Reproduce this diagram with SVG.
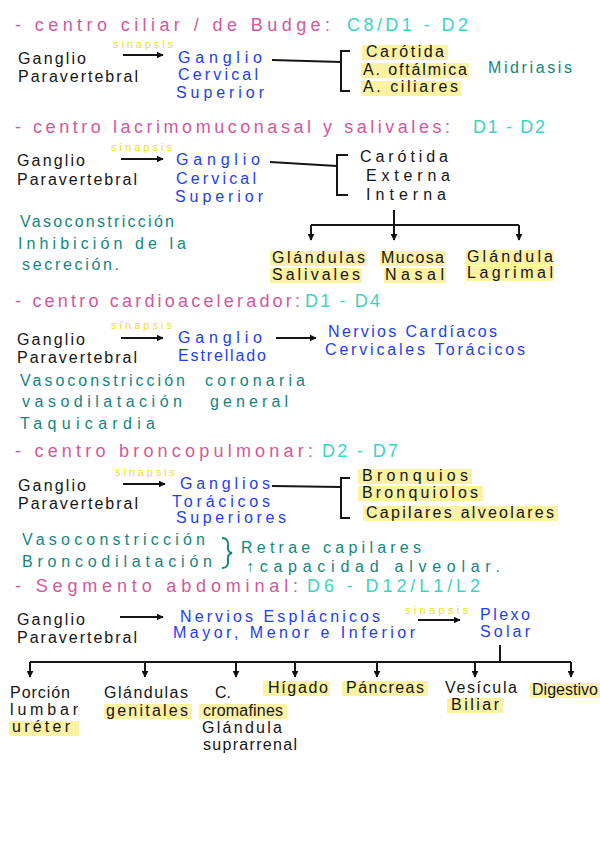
<svg xmlns="http://www.w3.org/2000/svg" width="600" height="848" viewBox="0 0 600 848">
<defs>
<marker id="ah" viewBox="0 0 10 10" refX="9" refY="5" markerWidth="7" markerHeight="7" markerUnits="userSpaceOnUse" orient="auto"><path d="M0,0 L10,5 L0,10 z" fill="#111"/></marker>
<style>
text{font-family:"Liberation Sans","DejaVu Sans",sans-serif;font-size:16px}
.t{fill:#d4589a;font-size:18px}
.c{fill:#3cd3c0;font-size:18px}
.k{fill:#151515}
.b{fill:#1e3ef0}
.g{fill:#12867d}
.s{fill:#efdf10;font-size:11px}
.hl{fill:#fbf2a4}
.ln{stroke:#151515;stroke-width:2;fill:none}
.ar{stroke:#151515;stroke-width:2;fill:none;marker-end:url(#ah)}
</style>
</defs>
<rect width="600" height="848" fill="#fff"/>

<!-- Section 1 -->
<g id="title1"><text class="t" x="15" y="31" textLength="315">- centro ciliar / de Budge:</text><text class="c" x="347" y="31" textLength="121">C8/D1 - D2</text></g>
<g id="s1-para"><text class="k" x="18" y="64" textLength="68">Ganglio</text><text class="k" x="18" y="82" textLength="120">Paravertebral</text></g>
<g id="s1-syn"><text class="s" x="113" y="48" textLength="60">sinapsis</text></g>
<g id="s1-gcs"><text class="b" x="178" y="63" textLength="84">Ganglio</text><text class="b" x="178" y="80" textLength="80">Cervical</text><text class="b" x="176" y="98" textLength="88">Superior</text></g>
<g id="s1-targets">
<rect class="hl" x="362" y="45" width="86" height="15"/><rect class="hl" x="361" y="63" width="108" height="15"/><rect class="hl" x="361" y="81" width="100" height="15"/>
<text class="k" x="366" y="57" textLength="78">Carótida</text><text class="k" x="363" y="75" textLength="104">A. oftálmica</text><text class="k" x="363" y="92" textLength="95">A. ciliares</text></g>
<g id="s1-mid"><text class="g" x="488" y="73" textLength="84">Midriasis</text></g>

<!-- Section 2 -->
<g id="title2"><text class="t" x="15" y="133" textLength="435">- centro lacrimomuconasal y salivales:</text><text class="c" x="473" y="133" textLength="72">D1 - D2</text></g>
<g id="s2-para"><text class="k" x="17" y="166" textLength="68">Ganglio</text><text class="k" x="17" y="185" textLength="120">Paravertebral</text></g>
<g id="s2-syn"><text class="s" x="111" y="151" textLength="61">sinapsis</text></g>
<g id="s2-gcs"><text class="b" x="176" y="165" textLength="84">Ganglio</text><text class="b" x="176" y="184" textLength="80">Cervical</text><text class="b" x="175" y="202" textLength="88">Superior</text></g>
<g id="s2-carotid"><text class="k" x="360" y="162" textLength="88">Carótida</text><text class="k" x="366" y="181" textLength="84">Externa</text><text class="k" x="366" y="200" textLength="80">Interna</text></g>
<g id="s2-effects"><text class="g" x="20" y="227" textLength="154">Vasoconstricción</text><text class="g" x="18" y="249" textLength="168">Inhibición de la</text><text class="g" x="22" y="270" textLength="97">secreción.</text></g>
<g id="s2-gland-sal"><rect class="hl" x="270" y="251" width="96" height="15"/><rect class="hl" x="270" y="268" width="92" height="15"/><text class="k" x="272" y="263" textLength="93">Glándulas</text><text class="k" x="272" y="280" textLength="88">Salivales</text></g>
<g id="s2-mucosa"><rect class="hl" x="380" y="251" width="66" height="15"/><rect class="hl" x="384" y="268" width="62" height="15"/><text class="k" x="381" y="263" textLength="63">Mucosa</text><text class="k" x="385" y="280" textLength="59">Nasal</text></g>
<g id="s2-gland-lag"><rect class="hl" x="466" y="250" width="88" height="15"/><rect class="hl" x="466" y="266" width="88" height="15"/><text class="k" x="467" y="262" textLength="86">Glándula</text><text class="k" x="467" y="278" textLength="86">Lagrimal</text></g>

<!-- Section 3 -->
<g id="title3"><text class="t" x="15" y="307" textLength="285">- centro cardioacelerador:</text><text class="c" x="305" y="307" textLength="75">D1 - D4</text></g>
<g id="s3-para"><text class="k" x="17" y="345" textLength="68">Ganglio</text><text class="k" x="17" y="363" textLength="120">Paravertebral</text></g>
<g id="s3-syn"><text class="s" x="111" y="329" textLength="61">sinapsis</text></g>
<g id="s3-ge"><text class="b" x="178" y="343" textLength="84">Ganglio</text><text class="b" x="178" y="361" textLength="88">Estrellado</text></g>
<g id="s3-nerv"><text class="b" x="328" y="337" textLength="169">Nervios Cardíacos</text><text class="b" x="325" y="355" textLength="200">Cervicales Torácicos</text></g>
<g id="s3-effects"><text class="g" x="20" y="386" textLength="165">Vasoconstricción</text><text class="g" x="205" y="386" textLength="100">coronaria</text><text class="g" x="22" y="407" textLength="160">vasodilatación</text><text class="g" x="210" y="407" textLength="78">general</text><text class="g" x="20" y="429" textLength="135">Taquicardia</text></g>

<!-- Section 4 -->
<g id="title4"><text class="t" x="15" y="457" textLength="298">- centro broncopulmonar:</text><text class="c" x="322" y="457" textLength="76">D2 - D7</text></g>
<g id="s4-para"><text class="k" x="18" y="491" textLength="68">Ganglio</text><text class="k" x="18" y="509" textLength="120">Paravertebral</text></g>
<g id="s4-syn"><text class="s" x="115" y="476" textLength="60">sinapsis</text></g>
<g id="s4-gts"><text class="b" x="180" y="489" textLength="90">Ganglios</text><text class="b" x="172" y="507" textLength="98">Torácicos</text><text class="b" x="176" y="523" textLength="110">Superiores</text></g>
<g id="s4-targets">
<rect class="hl" x="358" y="469" width="114" height="15"/><rect class="hl" x="358" y="486" width="125" height="15"/><rect class="hl" x="363" y="506" width="195" height="15"/>
<text class="k" x="362" y="481" textLength="106">Bronquios</text><text class="k" x="362" y="498" textLength="116">Bronquiolos</text><text class="k" x="366" y="518" textLength="188">Capilares alveolares</text></g>
<g id="s4-effects"><text class="g" x="22" y="545" textLength="183">Vasoconstricción</text><text class="g" x="22" y="567" textLength="190">Broncodilatación</text>
<path d="M222,538 Q229,538 228,546 Q227,552 232,553 Q227,554 228,560 Q229,568 222,568" stroke="#12867d" stroke-width="2" fill="none"/>
<text class="g" x="241" y="553" textLength="180">Retrae capilares</text><text class="g" x="246" y="572" textLength="254">↑capacidad alveolar.</text></g>

<!-- Section 5 -->
<g id="title5"><text class="t" x="15" y="592" textLength="283">- Segmento abdominal:</text><text class="c" x="307" y="592" textLength="173">D6 - D12/L1/L2</text></g>
<g id="s5-para"><text class="k" x="17" y="625" textLength="68">Ganglio</text><text class="k" x="17" y="643" textLength="120">Paravertebral</text></g>
<g id="s5-nerv"><text class="b" x="180" y="622" textLength="200">Nervios Esplácnicos</text><text class="b" x="173" y="638" textLength="242">Mayor, Menor e Inferior</text></g>
<g id="s5-syn"><text class="s" x="405" y="614" textLength="63">sinapsis</text></g>
<g id="s5-plexo"><text class="b" x="480" y="620" textLength="50">Plexo</text><text class="b" x="480" y="637" textLength="50">Solar</text></g>
<g id="s5-ureter"><rect class="hl" x="9" y="721" width="70" height="15"/><text class="k" x="10" y="698" textLength="60">Porción</text><text class="k" x="10" y="715" textLength="68">lumbar</text><text class="k" x="12" y="732" textLength="58">uréter</text></g>
<g id="s5-genit"><rect class="hl" x="104" y="704" width="88" height="15"/><text class="k" x="104" y="698" textLength="84">Glándulas</text><text class="k" x="106" y="716" textLength="82">genitales</text></g>
<g id="s5-crom"><rect class="hl" x="199" y="704" width="88" height="15"/><text class="k" x="215" y="698" textLength="16">C.</text><text class="k" x="203" y="716" textLength="80">cromafines</text><text class="k" x="202" y="733" textLength="80">Glándula</text><text class="k" x="203" y="750" textLength="94">suprarrenal</text></g>
<g id="s5-higado"><rect class="hl" x="263" y="681" width="67" height="15"/><text class="k" x="268" y="693" textLength="60">Hígado</text></g>
<g id="s5-pancreas"><rect class="hl" x="342" y="681" width="86" height="15"/><text class="k" x="346" y="693" textLength="78">Páncreas</text></g>
<g id="s5-vesicula"><rect class="hl" x="447" y="698" width="56" height="15"/><text class="k" x="445" y="693" textLength="72">Vesícula</text><text class="k" x="451" y="710" textLength="48">Biliar</text></g>
<g id="s5-digest"><rect class="hl" x="530" y="683" width="70" height="15"/><text class="k" x="532" y="695" textLength="66">Digestivo</text></g>

<!-- Connectors -->
<g id="connectors">
<path class="ar" d="M123,55 H163"/>
<path class="ln" d="M272,60 L341,62"/>
<path class="ln" d="M350,51 H341 V91 H350"/>
<path class="ar" d="M121,159 H163"/>
<path class="ln" d="M270,162 L337,166"/>
<path class="ln" d="M348,155 H337 V195 H348"/>
<path class="ar" d="M394,210 V240"/>
<path class="ln" d="M311,225 H519"/>
<path class="ar" d="M311,225 V240"/>
<path class="ar" d="M519,225 V240"/>
<path class="ar" d="M121,338 H163"/>
<path class="ar" d="M276,338 H316"/>
<path class="ar" d="M123,484 H165"/>
<path class="ln" d="M272,486 L341,487"/>
<path class="ln" d="M350,478 H341 V518 H350"/>
<path class="ar" d="M120,617 H163"/>
<path class="ar" d="M418,620 H460"/>
<path class="ln" d="M500,645 V662"/>
<path class="ln" d="M30,662 H571"/>
<path class="ar" d="M30,662 V677"/>
<path class="ar" d="M145,662 V677"/>
<path class="ar" d="M236,662 V677"/>
<path class="ar" d="M295,662 V677"/>
<path class="ar" d="M377,662 V677"/>
<path class="ar" d="M475,662 V677"/>
<path class="ar" d="M571,662 V677"/>
</g>
</svg>
